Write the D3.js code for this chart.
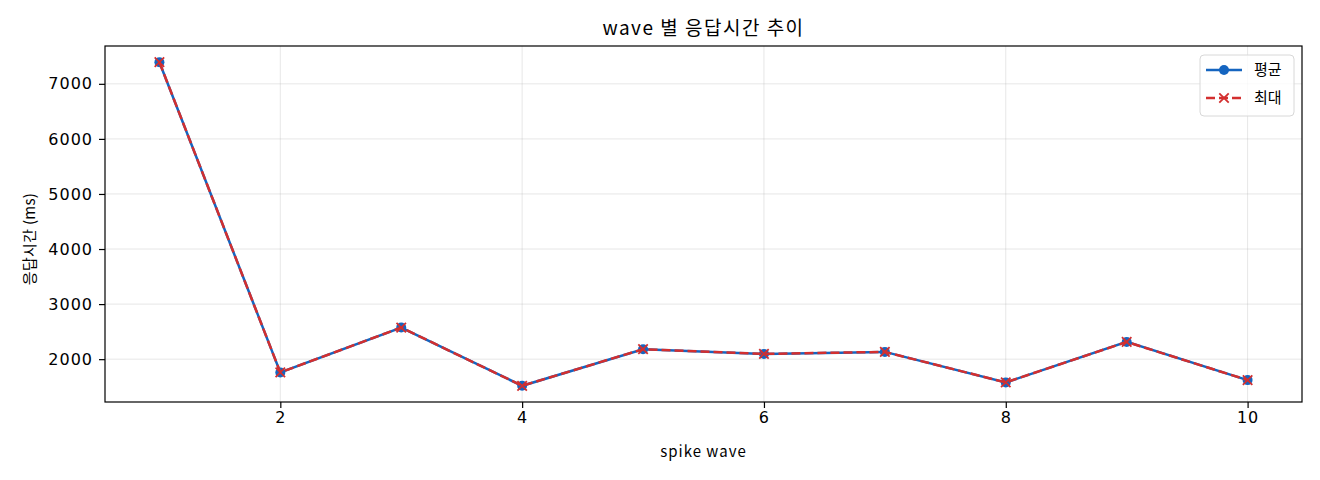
<!DOCTYPE html>
<html>
<head>
<meta charset="utf-8">
<script src="https://d3js.org/d3.v7.min.js"></script>
<style>
  body { margin: 0; background: #fff; }
  text { font-family: "Noto Sans CJK KR", "Noto Sans", sans-serif; fill: #000; }
</style>
</head>
<body>
<svg class="chart" width="1320" height="480"></svg>
<script>
// data
var waves = [1, 2, 3, 4, 5, 6, 7, 8, 9, 10];
var avgMs = [7393, 1759, 2574, 1516, 2181, 2096, 2132, 1578, 2313, 1620];
var maxMs = [7393, 1759, 2574, 1516, 2181, 2096, 2132, 1578, 2313, 1620];
var xTicks = [2, 4, 6, 8, 10];
var yTicks = [2000, 3000, 4000, 5000, 6000, 7000];
var seriesNames = ["평균", "최대"];

var margin = {top: 46, right: 18, bottom: 78, left: 105},
    width = 1320 - margin.left - margin.right,
    height = 480 - margin.top - margin.bottom;

var blue = "#1565c0", red = "#d32f2f";

var svg = d3.select(".chart");
var g = svg.append("g")
  .attr("transform", "translate(" + margin.left + "," + margin.top + ")");

// matplotlib-like 5% margins
var allY = avgMs.concat(maxMs);
var yMin = d3.min(allY), yMax = d3.max(allY), yPad = (yMax - yMin) * 0.05;
var x = d3.scaleLinear().domain([1 - 0.45, 10 + 0.45]).range([0, width]);
var y = d3.scaleLinear().domain([yMin - yPad, yMax + yPad]).range([height, 0]);

// grid
g.append("g").selectAll("line").data(xTicks).enter().append("line")
  .attr("x1", function(d) { return x(d); }).attr("x2", function(d) { return x(d); })
  .attr("y1", 0).attr("y2", height)
  .attr("stroke", "#b0b0b0").attr("stroke-opacity", 0.3).attr("stroke-width", 1);
g.append("g").selectAll("line").data(yTicks).enter().append("line")
  .attr("y1", function(d) { return y(d); }).attr("y2", function(d) { return y(d); })
  .attr("x1", 0).attr("x2", width)
  .attr("stroke", "#b0b0b0").attr("stroke-opacity", 0.3).attr("stroke-width", 1);

// axes
var xAxis = g.append("g")
  .attr("transform", "translate(0," + height + ")")
  .call(d3.axisBottom(x).tickValues(xTicks).tickSize(6).tickPadding(4).tickFormat(d3.format("d")));
var yAxis = g.append("g")
  .call(d3.axisLeft(y).tickValues(yTicks).tickSize(6).tickPadding(6).tickFormat(d3.format("d")));
[xAxis, yAxis].forEach(function(a) {
  a.select(".domain").remove();
  a.selectAll("text").style("font-size", "16px").style("font-family", "'DejaVu Sans', sans-serif")
    .style("letter-spacing", "1px");
  a.selectAll("line").attr("stroke", "#000").attr("stroke-width", 1.2);
});

// frame
g.append("rect").attr("x", 0).attr("y", 0).attr("width", width).attr("height", height)
  .attr("fill", "none").attr("stroke", "#000").attr("stroke-width", 1.2);

// lines
var line = function(vals) {
  return d3.line()
    .x(function(d, i) { return x(waves[i]); })
    .y(function(d) { return y(d); })(vals);
};
g.append("path").attr("d", line(avgMs))
  .attr("fill", "none").attr("stroke", blue).attr("stroke-width", 2.5);
g.append("g").selectAll("circle").data(avgMs).enter().append("circle")
  .attr("cx", function(d, i) { return x(waves[i]); })
  .attr("cy", function(d) { return y(d); })
  .attr("r", 5).attr("fill", blue);

g.append("path").attr("d", line(maxMs))
  .attr("fill", "none").attr("stroke", red).attr("stroke-width", 2.5)
  .attr("stroke-dasharray", "9,4");
var cross = d3.symbol().type(d3.symbolX).size(60);
g.append("g").selectAll("path").data(maxMs).enter().append("path")
  .attr("d", cross)
  .attr("transform", function(d, i) { return "translate(" + x(waves[i]) + "," + y(d) + ")"; })
  .attr("fill", "none").attr("stroke", red).attr("stroke-width", 1.8);

// title and labels
svg.append("text").attr("x", margin.left + width / 2).attr("y", 35)
  .attr("text-anchor", "middle").style("font-size", "19px").style("letter-spacing", "1.5px")
  .text("wave 별 응답시간 추이");
svg.append("text").attr("x", margin.left + width / 2).attr("y", 457)
  .attr("text-anchor", "middle").style("font-size", "15px").style("letter-spacing", "1px")
  .text("spike wave");
svg.append("text")
  .attr("transform", "translate(35,239) rotate(-90)")
  .attr("text-anchor", "middle").style("font-size", "15px").style("letter-spacing", "0.3px")
  .text("응답시간 (ms)");

// legend
var lg = svg.append("g").attr("transform", "translate(1200,55)");
lg.append("rect").attr("width", 94).attr("height", 61).attr("rx", 4)
  .attr("fill", "#fff").attr("fill-opacity", 0.8).attr("stroke", "#d8d8d8");
lg.append("line").attr("x1", 6).attr("x2", 42).attr("y1", 15).attr("y2", 15)
  .attr("stroke", blue).attr("stroke-width", 2.5);
lg.append("circle").attr("cx", 24).attr("cy", 15).attr("r", 5).attr("fill", blue);
lg.append("line").attr("x1", 6).attr("x2", 42).attr("y1", 43).attr("y2", 43)
  .attr("stroke", red).attr("stroke-width", 2.5).attr("stroke-dasharray", "9,4");
lg.append("path").attr("d", cross).attr("transform", "translate(24,43)")
  .attr("fill", "none").attr("stroke", red).attr("stroke-width", 1.8);
lg.selectAll("text.lbl").data(seriesNames).enter().append("text")
  .attr("class", "lbl")
  .attr("x", 54).attr("y", function(d, i) { return 20 + i * 28; })
  .style("font-size", "15px").text(function(d) { return d; });
</script>
</body>
</html>
